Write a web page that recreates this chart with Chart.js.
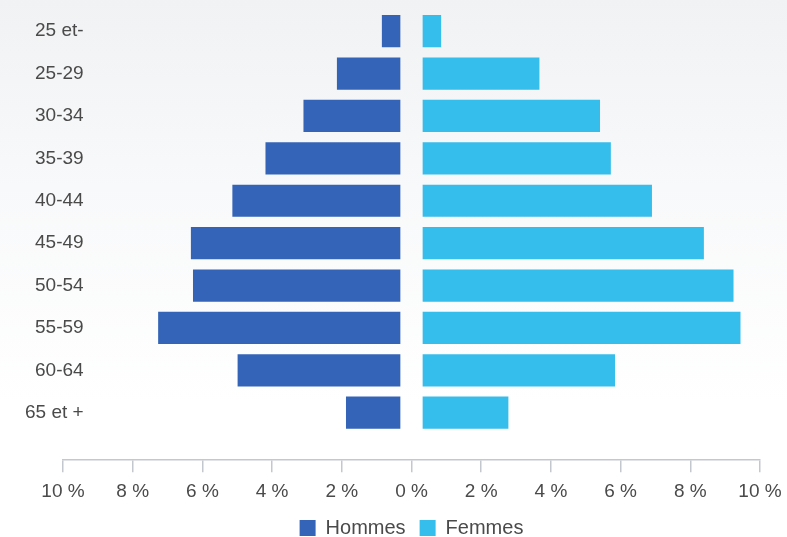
<!DOCTYPE html>
<html lang="fr">
<head>
  <meta charset="UTF-8">
  <title>Pyramide des âges</title>
  <script src="https://cdn.jsdelivr.net/npm/chart.js"></script>
  <style>
    html, body {
      margin: 0;
      padding: 0;
      width: 787px;
      height: 537px;
      overflow: hidden;
    }
    body {
      background: linear-gradient(180deg, #f1f2f4 0%, #f8f9fa 35%, #ffffff 75%);
    }
    .chart-box {
      position: relative;
      width: 787px;
      height: 537px;
    }
  </style>
</head>
<body>
  <div class="chart-box"><canvas id="pyramid"></canvas></div>

  <script>
    const ageGroups = ['25 et-', '25-29', '30-34', '35-39', '40-44', '45-49', '50-54', '55-59', '60-64', '65 et +'];
    const hommes = [0.85, 2.14, 3.10, 4.19, 5.14, 6.33, 6.27, 7.27, 4.99, 1.88];
    const femmes = [0.85, 3.67, 5.41, 5.72, 6.90, 8.39, 9.24, 9.44, 5.84, 2.78];
    const xTicks = [-10, -8, -6, -4, -2, 0, 2, 4, 6, 8, 10];

    const GAP = 0.32; // bars start a bit away from the centre line
    const textColor = '#4a4a4a';
    const font = { family: "'Liberation Sans', Arial, sans-serif", size: 19 };

    const menData = hommes.map((v, i) => ({ y: i, x: [-GAP, -v] }));
    const womenData = femmes.map((v, i) => ({ y: i, x: [GAP, v] }));

    new Chart(document.getElementById('pyramid'), {
      type: 'bar',
      data: {
        datasets: [
          { label: 'Hommes', data: menData, backgroundColor: '#3464b8', grouped: false },
          { label: 'Femmes', data: womenData, backgroundColor: '#35bdec', grouped: false }
        ]
      },
      options: {
        indexAxis: 'y',
        responsive: true,
        maintainAspectRatio: false,
        animation: false,
        barPercentage: 0.76,
        categoryPercentage: 1,
        layout: { padding: { top: 10, right: 27, left: 0, bottom: -11 } },
        scales: {
          x: {
            type: 'linear',
            min: -10,
            max: 10,
            afterBuildTicks: scale => { scale.ticks = xTicks.map(v => ({ value: v })); },
            afterFit: scale => {
              scale.height -= 7;
              scale.paddingLeft = 0;
              scale.paddingRight = 0;
            },
            ticks: {
              color: textColor,
              font,
              padding: 8,
              maxRotation: 0,
              callback: v => Math.abs(v) + ' %'
            },
            grid: { drawOnChartArea: false, color: '#c3c8ce', tickLength: 12, lineWidth: 1.5 },
            border: { color: '#c3c8ce', width: 1.5 }
          },
          y: {
            type: 'linear',
            offset: false,
            reverse: true,
            min: -0.5,
            max: 10.12,
            afterBuildTicks: scale => { scale.ticks = ageGroups.map((_, i) => ({ value: i })); },
            afterFit: scale => {
              scale.width = 63;
              scale.paddingTop = 0;
              scale.paddingBottom = 0;
            },
            ticks: {
              color: textColor,
              font,
              mirror: true,
              crossAlign: 'far',
              padding: -38,
              callback: v => ageGroups[v]
            },
            grid: { display: false, drawTicks: false, offset: false },
            border: { display: false }
          }
        },
        plugins: {
          legend: {
            display: true,
            position: 'bottom',
            fullSize: false,
            labels: {
              color: textColor,
              font: { family: font.family, size: 20 },
              boxWidth: 16,
              boxHeight: 16,
              padding: 14
            }
          },
          tooltip: { enabled: false }
        }
      }
    });
  </script>
</body>
</html>
